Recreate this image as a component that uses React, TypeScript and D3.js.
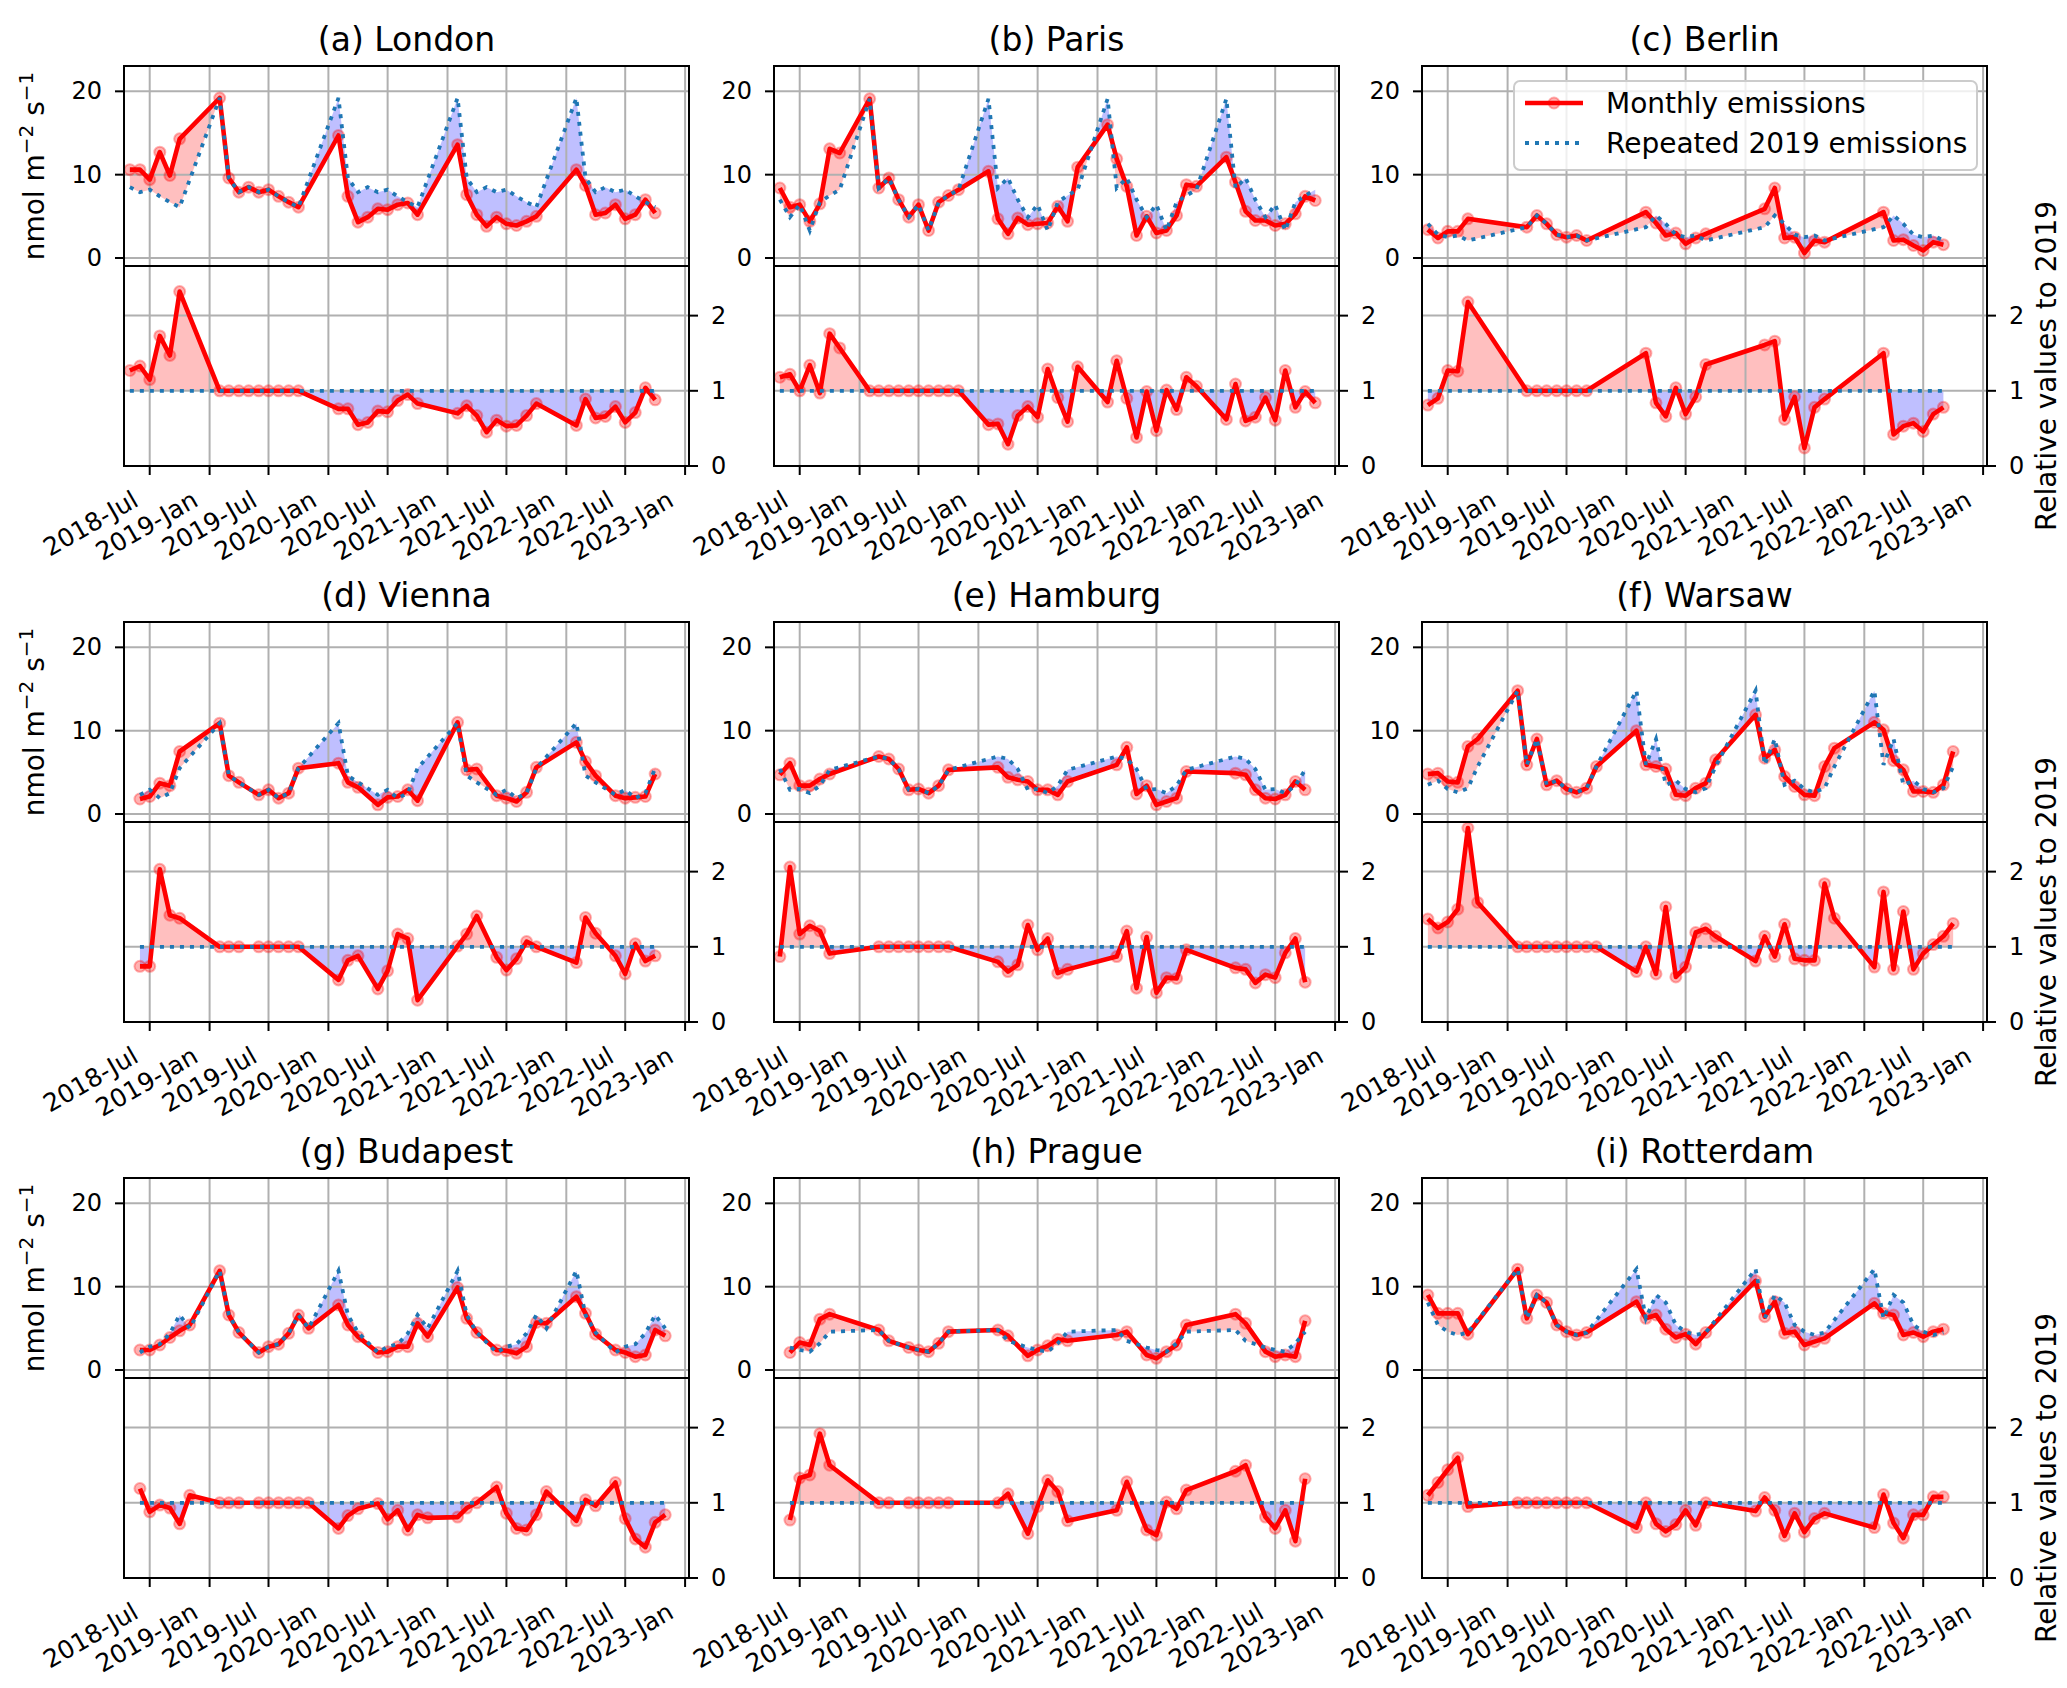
import * as d3 from "d3";

// months with data: 2018 months, then the same month set for 2019-2022
const YEARS = [2019, 2020, 2021, 2022];

const londonMonths2018 = [5, 6, 7, 8, 9, 10];
const londonMonths = [2, 3, 4, 5, 6, 7, 8, 9, 10];
const londonEmissions = [
  10.6, 10.6, 9.4, 12.7, 9.9, 14.3,
  19.2, 9.6, 7.9, 8.5, 7.9, 8.2, 7.4, 6.7, 6.1,
  14.7, 7.4, 4.3, 4.9, 5.9, 5.8, 6.4, 6.6, 5.2,
  13.6, 7.6, 5.2, 3.8, 4.9, 4.1, 3.9, 4.4, 5.0,
  10.6, 8.7, 5.2, 5.4, 6.4, 4.7, 5.2, 7.0, 5.4,
];
const londonRatio = [
  1.27, 1.33, 1.15, 1.73, 1.47, 2.32,
  1, 1, 1, 1, 1, 1, 1, 1, 1,
  0.76, 0.76, 0.55, 0.58, 0.73, 0.72, 0.87, 0.95, 0.83,
  0.7, 0.8, 0.67, 0.45, 0.61, 0.53, 0.54, 0.67, 0.83,
  0.54, 0.89, 0.64, 0.66, 0.79, 0.58, 0.71, 1.04, 0.88,
];

const parisMonths2018 = [5, 6, 7, 8, 9, 10, 11];
const parisMonths = [2, 3, 4, 5, 6, 7, 8, 9, 10, 11];
const parisEmissions = [
  8.4, 6.1, 6.4, 4.4, 6.5, 13.1, 12.6,
  19.1, 8.4, 9.6, 7.0, 4.9, 6.4, 3.3, 6.7, 7.5, 8.2,
  10.4, 4.7, 2.9, 4.8, 4.0, 4.1, 4.2, 6.2, 4.4, 10.9,
  16.0, 11.9, 8.6, 2.7, 5.0, 3.0, 3.3, 5.1, 8.8, 8.6,
  12.1, 9.1, 5.6, 4.5, 4.5, 3.9, 4.1, 5.3, 7.4, 6.9,
];
const parisRatio = [
  1.18, 1.22, 1.0, 1.34, 0.97, 1.76, 1.57,
  1, 1, 1, 1, 1, 1, 1, 1, 1, 1,
  0.55, 0.56, 0.29, 0.67, 0.79, 0.65, 1.29, 0.91, 0.59, 1.32,
  0.85, 1.4, 0.9, 0.38, 0.99, 0.47, 1.01, 0.75, 1.18, 1.06,
  0.62, 1.09, 0.6, 0.65, 0.91, 0.61, 1.27, 0.78, 0.99, 0.84,
];

const berlinMonths2018 = [5, 6, 7, 8, 9];
const berlinMonths = [3, 4, 5, 6, 7, 8, 9];
const berlinEmissions = [
  3.4, 2.4, 3.2, 3.2, 4.7,
  3.7, 5.1, 4.1, 2.8, 2.5, 2.7, 2.1,
  5.5, 4.2, 2.7, 3.0, 1.7, 2.4, 2.9,
  5.9, 8.4, 2.4, 2.5, 0.6, 2.1, 1.9,
  5.5, 2.1, 2.2, 1.5, 0.9, 1.9, 1.6,
];
const berlinRatio = [
  0.81, 0.9, 1.27, 1.26, 2.18,
  1, 1, 1, 1, 1, 1, 1,
  1.5, 0.84, 0.66, 1.04, 0.69, 0.92, 1.35,
  1.61, 1.66, 0.62, 0.92, 0.24, 0.78, 0.89,
  1.5, 0.42, 0.53, 0.57, 0.46, 0.69, 0.78,
];

const viennaMonths2018 = [6, 7, 8, 9, 10];
const viennaMonths = [2, 3, 4, 6, 7, 8, 9, 10];
const viennaEmissions = [
  1.8, 2.1, 3.7, 3.4, 7.5,
  10.9, 4.6, 3.8, 2.3, 2.9, 1.9, 2.5, 5.5,
  6.1, 3.8, 3.2, 1.1, 2.0, 2.1, 2.9, 1.6,
  11.0, 5.3, 5.4, 2.2, 1.9, 1.5, 2.6, 5.6,
  8.6, 6.3, 4.6, 2.2, 1.9, 2.0, 2.1, 4.8,
];
const viennaRatio = [
  0.74, 0.74, 2.03, 1.42, 1.38,
  1, 1, 1, 1, 1, 1, 1, 1,
  0.56, 0.82, 0.88, 0.44, 0.68, 1.17, 1.11, 0.29,
  1.01, 1.17, 1.41, 0.86, 0.69, 0.84, 1.07, 1.0,
  0.79, 1.39, 1.18, 0.88, 0.64, 1.04, 0.81, 0.88,
];

const hamburgMonths2018 = [5, 6, 7, 8, 9, 10];
const hamburgMonths = [3, 4, 5, 6, 7, 8, 9, 10];
const hamburgEmissions = [
  4.7, 6.1, 3.4, 3.4, 4.2, 4.8,
  6.9, 6.6, 5.4, 2.9, 3.0, 2.5, 3.4, 5.3,
  5.6, 4.4, 4.1, 3.9, 2.9, 2.9, 2.3, 3.9,
  5.9, 8.0, 2.4, 3.4, 1.1, 1.5, 1.9, 5.1,
  4.9, 4.7, 2.9, 1.9, 1.8, 2.3, 3.9, 2.9,
];
const hamburgRatio = [
  0.87, 2.06, 1.17, 1.28, 1.21, 0.91,
  1, 1, 1, 1, 1, 1, 1, 1,
  0.8, 0.67, 0.76, 1.29, 0.96, 1.11, 0.65, 0.7,
  0.87, 1.21, 0.45, 1.13, 0.39, 0.59, 0.58, 0.96,
  0.72, 0.7, 0.52, 0.63, 0.59, 0.92, 1.11, 0.53,
];

const warsawMonths2018 = [5, 6, 7, 8, 9, 10];
const warsawMonths = [2, 3, 4, 5, 6, 7, 8, 9, 10];
const warsawEmissions = [
  4.8, 4.9, 3.9, 3.8, 8.1, 9.0,
  14.8, 5.9, 9.0, 3.5, 4.0, 3.0, 2.6, 3.1, 5.7,
  10.0, 5.9, 5.7, 5.4, 2.3, 2.2, 3.1, 3.7, 6.5,
  11.9, 6.7, 7.7, 4.5, 3.3, 2.3, 2.2, 5.7, 7.9,
  11.0, 10.1, 6.4, 5.3, 2.7, 2.7, 2.6, 3.5, 7.5,
];
const warsawRatio = [
  1.37, 1.25, 1.33, 1.5, 2.58, 1.59,
  1, 1, 1, 1, 1, 1, 1, 1, 1,
  0.67, 1.0, 0.64, 1.53, 0.6, 0.73, 1.19, 1.24, 1.14,
  0.81, 1.14, 0.87, 1.3, 0.84, 0.82, 0.82, 1.84, 1.38,
  0.73, 1.73, 0.7, 1.47, 0.7, 0.91, 1.03, 1.14, 1.31,
];

const budapestMonths2018 = [6, 7, 8, 9, 10, 11];
const budapestMonths = [2, 3, 4, 6, 7, 8, 9, 10, 11];
const budapestEmissions = [
  2.4, 2.4, 3.0, 3.9, 4.7, 5.4,
  11.9, 6.6, 4.5, 2.1, 2.8, 3.1, 4.4, 6.6, 5.0,
  7.8, 5.4, 4.0, 2.1, 2.2, 2.8, 2.8, 5.6, 4.0,
  9.9, 6.2, 4.5, 2.4, 2.3, 2.0, 2.8, 5.7, 5.6,
  8.8, 6.8, 4.3, 2.4, 2.1, 1.6, 1.8, 4.8, 4.1,
];
const budapestRatio = [
  1.19, 0.88, 0.97, 0.93, 0.72, 1.1,
  1, 1, 1, 1, 1, 1, 1, 1, 1,
  0.66, 0.83, 0.92, 0.99, 0.78, 0.9, 0.64, 0.84, 0.8,
  0.81, 0.93, 1.0, 1.21, 0.86, 0.66, 0.64, 0.84, 1.15,
  0.76, 1.04, 0.96, 1.27, 0.79, 0.52, 0.41, 0.74, 0.84,
];

const pragueMonths2018 = [6, 7, 8, 9, 10];
const pragueMonths = [3, 4, 6, 7, 8, 9, 10];
const pragueEmissions = [
  2.1, 3.3, 3.0, 6.1, 6.7,
  4.8, 3.5, 2.7, 2.4, 2.2, 3.2, 4.6,
  4.8, 4.1, 1.7, 2.4, 2.9, 3.7, 3.5,
  4.2, 4.6, 1.8, 1.4, 2.2, 3.0, 5.4,
  6.7, 5.6, 2.2, 1.6, 1.8, 1.6, 5.9,
];
const pragueRatio = [
  0.77, 1.33, 1.37, 1.92, 1.5,
  1, 1, 1, 1, 1, 1, 1,
  1.0, 1.12, 0.59, 0.95, 1.3, 1.15, 0.76,
  0.9, 1.28, 0.64, 0.57, 1.01, 0.92, 1.17,
  1.42, 1.5, 0.81, 0.66, 0.9, 0.49, 1.32,
];

const rotterdamMonths2018 = [5, 6, 7, 8, 9];
const rotterdamMonths = [2, 3, 4, 5, 6, 7, 8, 9];
const rotterdamEmissions = [
  9.0, 6.8, 6.8, 6.8, 4.3,
  12.1, 6.2, 9.0, 8.1, 5.4, 4.6, 4.2, 4.5,
  8.2, 6.2, 6.6, 4.9, 3.9, 4.3, 3.1, 4.5,
  10.7, 6.4, 8.2, 4.4, 4.6, 3.0, 3.4, 3.8,
  8.0, 6.8, 6.6, 4.2, 4.5, 4.0, 4.6, 4.9,
];
const rotterdamRatio = [
  1.1, 1.27, 1.44, 1.6, 0.95,
  1, 1, 1, 1, 1, 1, 1, 1,
  0.67, 1.0, 0.72, 0.62, 0.71, 0.9, 0.7, 1.0,
  0.89, 1.07, 0.9, 0.56, 0.86, 0.61, 0.79, 0.86,
  0.67, 1.11, 0.73, 0.53, 0.84, 0.84, 1.08, 1.08,
];

const cities = [
  { title: "(a) London", m2018: londonMonths2018, months: londonMonths, em: londonEmissions, ratio: londonRatio },
  { title: "(b) Paris", m2018: parisMonths2018, months: parisMonths, em: parisEmissions, ratio: parisRatio },
  { title: "(c) Berlin", m2018: berlinMonths2018, months: berlinMonths, em: berlinEmissions, ratio: berlinRatio },
  { title: "(d) Vienna", m2018: viennaMonths2018, months: viennaMonths, em: viennaEmissions, ratio: viennaRatio },
  { title: "(e) Hamburg", m2018: hamburgMonths2018, months: hamburgMonths, em: hamburgEmissions, ratio: hamburgRatio },
  { title: "(f) Warsaw", m2018: warsawMonths2018, months: warsawMonths, em: warsawEmissions, ratio: warsawRatio },
  { title: "(g) Budapest", m2018: budapestMonths2018, months: budapestMonths, em: budapestEmissions, ratio: budapestRatio },
  { title: "(h) Prague", m2018: pragueMonths2018, months: pragueMonths, em: pragueEmissions, ratio: pragueRatio },
  { title: "(i) Rotterdam", m2018: rotterdamMonths2018, months: rotterdamMonths, em: rotterdamEmissions, ratio: rotterdamRatio },
];

const xTickDates = [
  "2018-07", "2019-01", "2019-07", "2020-01", "2020-07",
  "2021-01", "2021-07", "2022-01", "2022-07", "2023-01",
];
const topTicks = [0, 10, 20];
const relTicks = [0, 1, 2];

const W = 2067;
const H = 1688;
const COL_X = [116, 766, 1414];
const ROW_Y = [58, 614, 1170];
const PW = 565;
const SH = 200;
const FONT = "DejaVu Sans, sans-serif";
const BLUE = "#1f77b4";
const GRID = "#b0b0b0";

const x = d3
  .scaleTime()
  .domain([new Date(2018, 3, 13), new Date(2023, 0, 13)])
  .range([0, PW]);
const yTop = d3.scaleLinear().domain([-0.96, 23.04]).range([SH, 0]);
const yRel = d3.scaleLinear().domain([0, 2.66]).range([SH, 0]);

const parseMonth = d3.timeParse("%Y-%m");
const fmtTick = d3.timeFormat("%Y-%b");
const xTicks = xTickDates.map((s) => parseMonth(s) as Date);

type Pt = { t: number; a: number; b: number };

// add the points where the two series cross, so the fills switch colour there
function withCrossings(ts: number[], a: number[], b: number[]): Pt[] {
  const out: Pt[] = [];
  for (let i = 0; i < ts.length; i++) {
    out.push({ t: ts[i], a: a[i], b: b[i] });
    if (i < ts.length - 1) {
      const d0 = a[i] - b[i];
      const d1 = a[i + 1] - b[i + 1];
      if (d0 * d1 < 0) {
        const f = d0 / (d0 - d1);
        const v = a[i] + f * (a[i + 1] - a[i]);
        out.push({ t: ts[i] + f * (ts[i + 1] - ts[i]), a: v, b: v });
      }
    }
  }
  return out;
}

function SubPlot({
  ts,
  values,
  ref,
  y,
  ticks,
  side,
  id,
}: {
  ts: number[];
  values: number[];
  ref: number[];
  y: d3.ScaleLinear<number, number>;
  ticks: number[];
  side: "left" | "right";
  id: string;
}) {
  const pts = withCrossings(ts, values, ref);
  const above = d3
    .area<Pt>()
    .x((d) => x(d.t))
    .y0((d) => y(d.b))
    .y1((d) => y(Math.max(d.a, d.b)));
  const below = d3
    .area<Pt>()
    .x((d) => x(d.t))
    .y0((d) => y(d.b))
    .y1((d) => y(Math.min(d.a, d.b)));
  const line = d3
    .line<number>()
    .x((_, i) => x(ts[i]))
    .y((d) => y(d));

  return (
    <g>
      <clipPath id={id}>
        <rect x={0} y={0} width={PW} height={SH} />
      </clipPath>
      <g clipPath={`url(#${id})`}>
        <path d={above(pts) ?? ""} fill="rgba(255,0,0,0.25)" />
        <path d={below(pts) ?? ""} fill="rgba(0,0,255,0.25)" />
        {xTicks.map((t, i) => (
          <line key={"gx" + i} x1={x(t)} x2={x(t)} y1={0} y2={SH} stroke={GRID} strokeWidth={2} />
        ))}
        {ticks.map((v) => (
          <line key={"gy" + v} x1={0} x2={PW} y1={y(v)} y2={y(v)} stroke={GRID} strokeWidth={2} />
        ))}
        {values.map((v, i) => (
          <circle
            key={"m" + i}
            cx={x(ts[i])}
            cy={y(v)}
            r={5.5}
            fill="red"
            fillOpacity={0.3}
            stroke="red"
            strokeOpacity={0.3}
            strokeWidth={2}
          />
        ))}
        <path d={line(values) ?? ""} fill="none" stroke="red" strokeWidth={4.6} strokeLinejoin="round" />
        <path d={line(ref) ?? ""} fill="none" stroke={BLUE} strokeWidth={3.8} strokeDasharray="4 6" />
      </g>
      <rect x={0} y={0} width={PW} height={SH} fill="none" stroke="black" strokeWidth={2} />
      {ticks.map((v) => {
        const tx = side === "left" ? 0 : PW;
        const dir = side === "left" ? -1 : 1;
        return (
          <g key={"t" + v}>
            <line x1={tx} x2={tx + dir * 9} y1={y(v)} y2={y(v)} stroke="black" strokeWidth={2} />
            <text
              x={tx + dir * 22}
              y={y(v)}
              textAnchor={side === "left" ? "end" : "start"}
              dominantBaseline="central"
              fontSize={24}
            >
              {v}
            </text>
          </g>
        );
      })}
    </g>
  );
}

function Panel({ city, col, row }: { city: (typeof cities)[number]; col: number; row: number }) {
  const dates: Date[] = [
    ...city.m2018.map((m) => new Date(2018, m - 1, 1)),
    ...YEARS.flatMap((yr) => city.months.map((m) => new Date(yr, m - 1, 1))),
  ];
  const ts = dates.map((d) => d.getTime());
  const off2019 = city.m2018.length;
  // repeated 2019 emissions: the 2019 value of the same month
  const repeated = dates.map((d) => city.em[off2019 + city.months.indexOf(d.getMonth() + 1)]);
  const ones = dates.map(() => 1);
  const id = `p${row}${col}`;

  return (
    <g transform={`translate(${COL_X[col]},${ROW_Y[row]})`}>
      <text x={PW / 2} y={-15} textAnchor="middle" fontSize={33}>
        {city.title}
      </text>
      <SubPlot ts={ts} values={city.em} ref={repeated} y={yTop} ticks={topTicks} side="left" id={id + "a"} />
      <g transform={`translate(0,${SH})`}>
        <SubPlot ts={ts} values={city.ratio} ref={ones} y={yRel} ticks={relTicks} side="right" id={id + "b"} />
        {xTicks.map((t, i) => (
          <g key={"xt" + i}>
            <line x1={x(t)} x2={x(t)} y1={SH} y2={SH + 9} stroke="black" strokeWidth={2} />
            <text
              transform={`translate(${x(t) - 19},${SH + 23}) rotate(-30)`}
              textAnchor="end"
              dominantBaseline="hanging"
              fontSize={25}
            >
              {fmtTick(t)}
            </text>
          </g>
        ))}
      </g>
      {col === 0 && (
        <text transform={`translate(-80,${SH / 2}) rotate(-90)`} textAnchor="middle" fontSize={28}>
          nmol m
          <tspan dy={-11} fontSize={20}>
            −2
          </tspan>
          <tspan dy={11}> s</tspan>
          <tspan dy={-11} fontSize={20}>
            −1
          </tspan>
        </text>
      )}
      {col === 2 && (
        <text
          transform={`translate(${2038 - COL_X[2]},${SH * 1.5}) rotate(-90)`}
          textAnchor="middle"
          dominantBaseline="central"
          fontSize={28}
        >
          Relative values to 2019
        </text>
      )}
      {col === 2 && row === 0 && (
        <g transform="translate(92,15)">
          <rect width={463} height={89} rx={6} fill="white" fillOpacity={0.8} stroke="#cccccc" strokeWidth={2} />
          <line x1={11} x2={69} y1={22} y2={22} stroke="red" strokeWidth={4.6} />
          <circle cx={40} cy={22} r={5.5} fill="red" fillOpacity={0.3} stroke="red" strokeOpacity={0.3} strokeWidth={2} />
          <text x={92} y={22} dominantBaseline="central" fontSize={28}>
            Monthly emissions
          </text>
          <line x1={11} x2={69} y1={62} y2={62} stroke={BLUE} strokeWidth={3.8} strokeDasharray="4 6" />
          <text x={92} y={62} dominantBaseline="central" fontSize={28}>
            Repeated 2019 emissions
          </text>
        </g>
      )}
    </g>
  );
}

export default function App() {
  return (
    <svg width={W} height={H} viewBox={`0 0 ${W} ${H}`} fontFamily={FONT} style={{ display: "block", background: "white" }}>
      <rect width={W} height={H} fill="white" />
      {cities.map((c, i) => (
        <Panel key={c.title} city={c} col={i % 3} row={Math.floor(i / 3)} />
      ))}
    </svg>
  );
}
